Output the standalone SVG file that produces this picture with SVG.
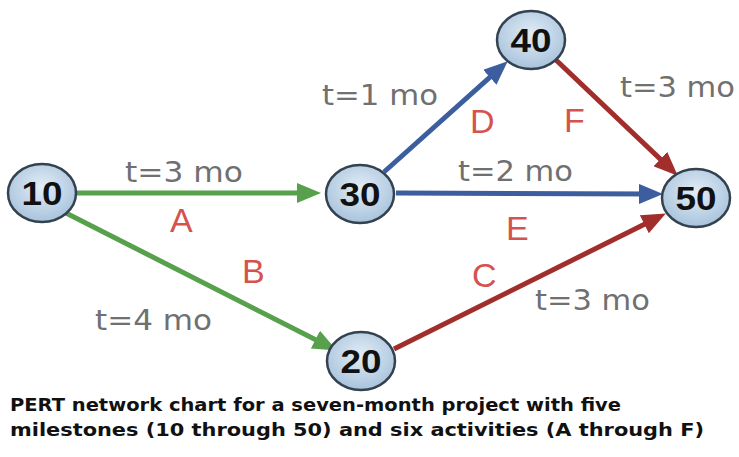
<svg xmlns="http://www.w3.org/2000/svg" width="739" height="457" viewBox="0 0 739 457">
<defs>
<radialGradient id="nodeFill" cx="50%" cy="40%" r="60%">
<stop offset="0%" stop-color="#e2edf6"/>
<stop offset="100%" stop-color="#a8c3dc"/>
</radialGradient>
<marker id="arrG" markerUnits="userSpaceOnUse" markerWidth="24" markerHeight="20" viewBox="0 0 24 20" refX="13" refY="10" orient="auto"><path d="M0,0 L24,10 L0,20 z" fill="#57a04c"/></marker>
<marker id="arrB" markerUnits="userSpaceOnUse" markerWidth="24" markerHeight="20" viewBox="0 0 24 20" refX="13" refY="10" orient="auto"><path d="M0,0 L24,10 L0,20 z" fill="#3c5e9e"/></marker>
<marker id="arrR" markerUnits="userSpaceOnUse" markerWidth="24" markerHeight="20" viewBox="0 0 24 20" refX="13" refY="10" orient="auto"><path d="M0,0 L24,10 L0,20 z" fill="#a22e2c"/></marker>
</defs>
<style>
.node ellipse{fill:url(#nodeFill);stroke:#34424f;stroke-width:2.5}
.node text{font-family:"Liberation Sans",Arial,sans-serif;font-weight:bold;font-size:34px;fill:#111;text-anchor:middle}
.e{fill:none;stroke-width:5}
.g{stroke:#57a04c}
.b{stroke:#3c5e9e}
.r{stroke:#a22e2c}
.t{font-family:"DejaVu Sans",sans-serif;font-size:29px;fill:#707070}
.l{font-family:"Liberation Sans",Arial,sans-serif;font-size:34px;fill:#d4534f}
.cap{font-family:"DejaVu Sans",sans-serif;font-weight:bold;font-size:17px;fill:#111}
</style>
<rect width="739" height="457" fill="#ffffff"/>
<g id="connectors">
<line class="e g" x1="76" y1="193" x2="310" y2="193" marker-end="url(#arrG)"/>
<line class="e g" x1="64" y1="212" x2="327" y2="345.5" marker-end="url(#arrG)"/>
<line class="e b" x1="384" y1="172" x2="499.5" y2="68.7" marker-end="url(#arrB)"/>
<line class="e b" x1="396" y1="193" x2="652" y2="194" marker-end="url(#arrB)"/>
<line class="e r" x1="556" y1="60" x2="669.8" y2="168.1" marker-end="url(#arrR)"/>
<line class="e r" x1="394" y1="349" x2="656" y2="218.5" marker-end="url(#arrR)"/>
</g>
<g id="labels">
<text class="t" x="125" y="182" textLength="118" lengthAdjust="spacingAndGlyphs">t=3 mo</text>
<text class="l" x="170" y="232">A</text>
<text class="t" x="95" y="330" textLength="117" lengthAdjust="spacingAndGlyphs">t=4 mo</text>
<text class="l" x="242" y="283">B</text>
<text class="t" x="322" y="105" textLength="116" lengthAdjust="spacingAndGlyphs">t=1 mo</text>
<text class="l" x="470" y="133">D</text>
<text class="t" x="458" y="181" textLength="115" lengthAdjust="spacingAndGlyphs">t=2 mo</text>
<text class="l" x="506" y="240">E</text>
<text class="t" x="620" y="97" textLength="115" lengthAdjust="spacingAndGlyphs">t=3 mo</text>
<text class="l" x="564" y="132">F</text>
<text class="l" x="472" y="287">C</text>
<text class="t" x="535" y="310" textLength="115" lengthAdjust="spacingAndGlyphs">t=3 mo</text>
</g>
<g id="n10" class="node"><ellipse cx="42" cy="193" rx="34" ry="29"/><text x="42" y="205" textLength="41" lengthAdjust="spacingAndGlyphs">10</text></g>
<g id="n30" class="node"><ellipse cx="360" cy="194" rx="34" ry="29"/><text x="360" y="206" textLength="41" lengthAdjust="spacingAndGlyphs">30</text></g>
<g id="n40" class="node"><ellipse cx="531" cy="40" rx="34" ry="29"/><text x="531" y="52" textLength="41" lengthAdjust="spacingAndGlyphs">40</text></g>
<g id="n50" class="node"><ellipse cx="696" cy="198" rx="34" ry="29"/><text x="696" y="210" textLength="41" lengthAdjust="spacingAndGlyphs">50</text></g>
<g id="n20" class="node"><ellipse cx="361" cy="361" rx="34" ry="29"/><text x="361" y="373" textLength="41" lengthAdjust="spacingAndGlyphs">20</text></g>
<g id="caption">
<text class="cap" x="10" y="411" textLength="611" lengthAdjust="spacingAndGlyphs">PERT network chart for a seven-month project with five</text>
<text class="cap" x="10" y="436" textLength="694" lengthAdjust="spacingAndGlyphs">milestones (10 through 50) and six activities (A through F)</text>
</g>
</svg>
